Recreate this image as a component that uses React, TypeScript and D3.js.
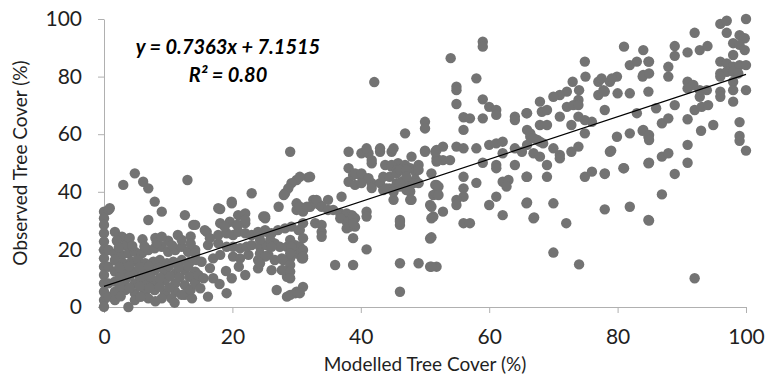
import React, {useEffect, useRef} from 'react';
import * as d3 from 'd3';

type Pt = [number, number];

// modelled (x) vs observed (y) tree cover
const coverLow: Pt[] = [
  [0, 33.1], [0.7, 33.7], [0.9, 34.3], [0, 30.8], [0, 28.5], [1.7, 26.1], [2.8, 24.4], [3.3, 21.5],
  [0, 25.6], [0, 22.7], [0, 19.8], [0, 16.9], [0, 14], [0, 11.1], [0, 8.2], [0, 5.3], [0, 2.4], [0, 0.1],
  [0.7, 19.8], [0.7, 14], [0.7, 8.2], [0.7, 3.6],
  [1.7, 18.6], [2.8, 18.1], [3.8, 18.6], [4.8, 19.2], [5.9, 18.6], [6.9, 19.8], [7.9, 20.4], [9, 20.9],
  [10, 19.2], [11.1, 19.8], [12.1, 20.9], [13.1, 19.2], [14.2, 19.8],
  [1.7, 16.3], [3, 15.2], [4.3, 15.7], [5.3, 16.3], [6.4, 15.2], [7.7, 15.7], [8.7, 16.3], [9.8, 15.2],
  [10.8, 15.7], [12.1, 16.3], [13.4, 15.7], [14.4, 16.3],
  [1.7, 12.3], [3.3, 12.8], [4.8, 12.3], [6.4, 11.7], [7.9, 12.8], [9.5, 12.3], [11.1, 11.7], [12.6, 12.8], [14.2, 12.3],
  [1.7, 8.8], [3.3, 9.4], [4.8, 8.2], [6.4, 8.8], [7.9, 8.2], [9.5, 9.4], [11.1, 8.2], [12.6, 7.6], [14.2, 8.8],
  [1.7, 5.3], [3.3, 5.9], [4.8, 4.8], [6.4, 5.3], [7.9, 5.9], [9.5, 4.8], [11.1, 5.3], [12.6, 4.2],
  [1.7, 2.4], [3.8, 0], [4.8, 2.4], [6.9, 3], [9, 3], [10.5, 3], [12.1, 4.2], [13.7, 3],
  [2, 23], [4, 24], [6, 23.5], [8, 24], [10, 23], [11.5, 25], [13.5, 24.5],
  [2.5, 10.5], [4, 10.8], [5.6, 10.2], [7.2, 10.6], [8.7, 10.1], [10.3, 10.7], [11.8, 10.2], [13.3, 10.5],
  [2.4, 13.9], [3.9, 14.2], [5.5, 13.8], [7, 14.1], [8.5, 13.7], [10.1, 14.2], [11.6, 13.8], [13.1, 14.1],
  [2.3, 20.6], [4.4, 21.2], [6.3, 21], [8.2, 22.3], [10.6, 21.4], [13.5, 22],
  [2.5, 7], [4, 6.7], [5.6, 7.2], [7.1, 6.6], [8.7, 7], [10.2, 6.8], [13.5, 6],
  [2.6, 3.7], [5.7, 3.5], [8, 2], [11, 1.5],
  [7.9, 36.6], [9, 33.1], [6.9, 30.2], [12.6, 31.9], [13.9, 28.5], [4.8, 46.4], [3, 42.4], [6.1, 43.5],
  [6.9, 41.2], [13, 44.1], [9, 24.4], [12.1, 23.3],
];

const coverLowMid: Pt[] = [
  [14.2, 18.6], [15.2, 15.7], [17, 16.9], [18.1, 18.1], [20.1, 17.5], [21.2, 16.9], [22.5, 18.1], [24, 16.3],
  [25.6, 18.1], [26.6, 16.3], [27.7, 16.9], [29, 16.9], [30, 18.6], [31, 16.9],
  [16.2, 21.5], [17.8, 22.1], [19.1, 20.9], [20.1, 20.9], [21.2, 20.4], [22.2, 20.9], [23, 21.5], [24.3, 20.9],
  [25.3, 21.5], [26.6, 22.1], [27.4, 20.9], [28.5, 20.9], [29.8, 21.5], [30.5, 20.9],
  [16, 26.1], [14.2, 28.5], [17.8, 25], [19.1, 25.6], [20.1, 25], [20.9, 26.1], [22, 25.6], [23, 25], [24, 26.1],
  [25.1, 26.7], [26.1, 25.6], [27.1, 26.7], [28.2, 27.3], [29.2, 27.9], [30.3, 26.7],
  [18.1, 29.1], [19.6, 29.6], [20.7, 28.5], [22, 29.1], [24.8, 31.4], [20.9, 31.9], [22, 32.5], [17.8, 34.3],
  [19.9, 36], [23, 39.5], [28.2, 39.5], [19.9, 36.6], [18.1, 34],
  [22, 11.1], [24, 13.4], [26.1, 12.8], [27.7, 12.8], [28.5, 10.5], [17, 10], [19.9, 10], [14.2, 8.2], [15, 6.5],
  [16.2, 3.6], [19.1, 4.8], [26.9, 5.9], [28.5, 3.6], [29.8, 4.8], [14.7, 11.1],
  [16.5, 13.5], [19, 12.5], [21, 14], [15.5, 10], [18, 8],
  [15.7, 26.7], [16.5, 23.9], [18.8, 27.9], [20.9, 28.5], [22, 30.2], [25.1, 30.8],
  [24.3, 25.6], [25.3, 26.1], [24.3, 23.3], [25.9, 23.3], [26.1, 20.9], [24.3, 18.6], [25.1, 17.5], [24.3, 15.2],
  [29, 23.3], [29.2, 20.9], [29, 18.6], [27.9, 16.3], [29, 14.6], [27.9, 12.8], [29, 12.3], [30.8, 19.2],
  [30.8, 16.9], [29, 10], [29, 4.2], [30, 5.3], [31, 7],
  [29, 53.9], [30, 44.1], [31.8, 45], [29.2, 43], [28.7, 41.2], [28, 38.9], [27.2, 34.8], [25.1, 31.4],
  [30, 36], [30, 33.7], [31, 33.1], [32.1, 34.8], [32.6, 37.2], [32.9, 36], [33.6, 35.4], [34.9, 37.2],
];

const coverMid: Pt[] = [
  [30.5, 45.2], [32.1, 45.2], [38.1, 53.9], [40.1, 53.4], [41.2, 53.4], [43, 53.9], [44.8, 53.9], [40.9, 55.1],
  [43, 55.1], [45.1, 55.1],
  [41.7, 49.9], [43.8, 49.3], [44.8, 49.3], [45.8, 49.9], [46.9, 49.3],
  [38.1, 48.2], [38.1, 43.5], [38.8, 45.8], [39.9, 45.8], [40.7, 44.7], [41.7, 43], [41.7, 41.3],
  [43, 43], [43.5, 40.6], [44.5, 41.2], [45.6, 43], [46.4, 43.5], [47.1, 40.6], [47.7, 40.1], [45.1, 37.2],
  [47.7, 37.2], [37, 38.3], [33.1, 37.2],
  [30.5, 34.8], [31.6, 34.8], [33.9, 34.8], [34.9, 33.7], [35.7, 33.7], [36.8, 32.5], [37.8, 32.5], [38.6, 31.9],
  [39.1, 30.8], [40.9, 33.1], [40.9, 31.4],
  [37.8, 29.6], [38.8, 28.5], [37.8, 27.3], [32.9, 29.1], [33.9, 28.5], [33.9, 26.1], [33.9, 24.4], [31, 29.1],
  [30.5, 26.7], [31, 23.9],
  [36.8, 30.8], [38.1, 29.6], [38.3, 27.9], [39.1, 27.9], [38.8, 31.4], [38.8, 29.1],
  [46.1, 30.2], [46.1, 28.5], [38.8, 23.9], [40.9, 20], [31, 19.8], [31, 17.5], [36, 14.6], [38.8, 14.6],
  [30.5, 4.8],
  [41.7, 51], [44.8, 48.8], [45.6, 47.6], [39.1, 46.4], [40.1, 46.4], [41.2, 44.7], [39.1, 42.4], [40.1, 43],
  [43.5, 45.2], [44.5, 45.2], [45.6, 46.4], [46.6, 47.6], [47.7, 48.2], [48.5, 47], [48.5, 44.1], [44, 41.2],
  [45.1, 40], [46.1, 41.8], [47.1, 42.4], [48.2, 43],
  [42.1, 78.1],
];

const coverUpperMid: Pt[] = [
  [50, 64.3], [50, 62], [46.9, 60.3], [50, 54.3], [51.8, 54.5], [52.8, 55.7], [54.9, 55.7], [56, 55.1], [58, 55.1],
  [60, 56.3], [61.1, 56.8], [62.1, 57.4], [64, 55.1],
  [47.9, 52.2], [49, 49.3], [49, 47.6], [51.8, 51.6], [52.8, 51], [53.9, 51], [46.1, 47.6], [47.1, 47.6],
  [47.1, 45.2], [46.1, 43], [49, 43],
  [50, 53.9], [51.6, 53.9], [51, 46.4], [51.6, 42.4], [51.3, 38.9],
  [51.8, 50.5], [59, 50.1], [62.1, 53.4], [65.1, 53.9], [61.1, 49.3], [61.1, 48.2], [64, 49.3], [56, 45.2],
  [58, 43.1], [62.1, 43.5], [63, 44.1], [62.7, 41.8], [65.9, 45.2],
  [51.8, 42.4], [51.8, 39.5], [56, 41.2], [56, 38.3], [54.9, 37.2], [54.9, 35.4], [50.8, 35.4], [51.3, 31.4],
  [52.8, 33.1], [60, 35.4], [61.1, 38.3], [62.1, 31.9], [65.9, 36.3], [67, 31.1],
  [56, 29.1], [57, 29.1], [50.8, 23.8], [50.8, 14], [51.8, 14], [52.1, 41.8], [52.1, 38.9], [47.9, 37.2],
  [51, 34.8], [51, 30.8], [46.1, 29.6], [51, 24.2], [46.1, 15.2], [49, 15.2], [51, 14], [46.1, 5.3],
  [59, 92.1], [59, 90.4], [54, 86.4], [58, 79.4], [54.9, 76.5], [59, 72.1], [54.9, 70.5], [60, 69.5],
  [61.1, 68.4], [61.1, 66.7], [56, 65.9], [57, 65.5], [59, 65.5], [56, 61.5], [64, 66.1], [64, 64.9],
  [65.9, 67.3], [65.9, 61.5], [66.4, 59.1], [67.5, 58], [65.9, 56.3], [54.9, 75.3],
];

const coverHigh: Pt[] = [
  [81, 90.4], [84, 89.2], [74.9, 85.2], [81.9, 84], [83, 85.2], [84.8, 85.2], [84, 80.6], [75, 80], [73, 78.2],
  [77, 78.2], [77.5, 79.4], [78.8, 78.2], [79.9, 80], [74, 75.3], [72.1, 74.8], [71, 73.6], [70, 73],
  [67.9, 71.3], [73.9, 71.9], [77, 73.6], [77.8, 75.3], [80, 74.2], [81.9, 74.2], [84.8, 74.8], [72.1, 69.5],
  [73.1, 70.1], [73.9, 70.1], [65.8, 67.3], [68.2, 67.8], [69, 68.4], [78, 68.4], [83, 67.3], [71, 66.1],
  [73.9, 66.1], [74.9, 64.9], [76, 64.3], [67.9, 63.2], [69, 63.2], [72.8, 63.2], [66.4, 60.3],
  [74.9, 60.3], [79.9, 59.1], [81.9, 60.3], [84, 61.5], [84.8, 59.1], [66.9, 58.6], [67.9, 57.4], [68.4, 56.8],
  [70, 55.1], [71, 52.8], [71, 51.6], [66.9, 53.4], [67.9, 52.2], [69, 49.3], [72.8, 53.9], [73.9, 55.7],
  [78.8, 53.9], [84.8, 49.9], [65.8, 45.2], [69, 45.2], [74.9, 45.2], [76, 47], [78, 46.4], [81, 48.2],
  [65.8, 36], [70, 36], [66.9, 30.8], [72, 29.1], [78, 33.9], [81.9, 34.8], [84.8, 30.2], [70, 18.9], [74, 14.8],
];

const coverTop: Pt[] = [
  [100, 100], [96, 98.3], [97, 99.4], [97, 95.2], [92, 95.2], [99, 94.4], [99.8, 93.3], [98, 91.6], [99, 91],
  [88.9, 90.6], [88.9, 87.2], [90.9, 88.4], [92.8, 89.2], [94, 90.6], [99.8, 89.2], [98, 87.5], [84.9, 85.2],
  [87.9, 83.4], [87.9, 80], [96, 85.2], [97, 84.6], [98, 83.4], [99, 84], [100, 84], [96, 81.1], [97, 81.7],
  [98, 81.7], [98.8, 81.1], [79.1, 79.4], [83.9, 80], [84.9, 81.1], [96, 80], [90.9, 78.2], [91.8, 77.1],
  [98, 78.2], [78, 74.8], [90.9, 75.9], [92.8, 75.3], [93.9, 75.3], [96, 74.8], [96, 73], [98, 75.3],
  [100, 75.3], [92.8, 73], [98, 71.3], [86, 69], [88.9, 70.1], [92, 68.4], [93.1, 69.5], [94.1, 70.1],
  [86.9, 63.8], [87.9, 65.5], [90.9, 65.2], [99, 64.2], [93, 61.2], [94.9, 63.2], [83.9, 61.2], [84.9, 59.7],
  [84.9, 58], [99, 59.4], [99, 57.7], [79, 54.3], [90.9, 56.3], [100, 54.3], [86.9, 52.2], [87.9, 53.4],
  [78, 46.2], [80.9, 48.2], [84.9, 50.1], [88.9, 46.2], [90.9, 50.1], [86.9, 39.1], [84.9, 30], [92, 10],
];

const xTicks = [0, 20, 40, 60, 80, 100];
const yTicks = [0, 20, 40, 60, 80, 100];
const slope = 0.7363;
const intercept = 7.1515;
const rSquared = '0.80';

const font = 'Lato, "Open Sans", sans-serif';

const App = () => {
  const ref = useRef<SVGSVGElement>(null);

  useEffect(() => {
    const svg = d3.select(ref.current);
    svg.selectAll('*').remove();

    const x = d3.scaleLinear().domain([0, 100]).range([104, 746]);
    const y = d3.scaleLinear().domain([0, 100]).range([307, 19]);

    const points = [...coverLow, ...coverLowMid, ...coverMid, ...coverUpperMid, ...coverHigh, ...coverTop];

    // axes
    const yAxis = svg.append('g')
    .attr('transform', `translate(${x(0)},0)`)
    .call(d3.axisLeft(y).tickValues(yTicks).tickSize(6).tickSizeOuter(0).tickPadding(16));
    const xAxis = svg.append('g')
    .attr('transform', `translate(0,${y(0)})`)
    .call(d3.axisBottom(x).tickValues(xTicks).tickSize(6).tickSizeOuter(0).tickPadding(16));

    for (const ax of [xAxis, yAxis]) {
      ax.selectAll('path, line').attr('stroke', '#b0b0b0');
      ax.selectAll('text')
      .style('font-family', font)
      .style('font-size', '21px')
      .attr('fill', '#1f1f1f');
    }

    svg.append('g')
    .selectAll('circle')
    .data(points)
    .join('circle')
    .attr('cx', d => x(d[0]))
    .attr('cy', d => y(d[1]))
    .attr('r', 5.2)
    .attr('fill', '#737373');

    // linear trendline
    svg.append('line')
    .attr('x1', x(0))
    .attr('y1', y(intercept))
    .attr('x2', x(100))
    .attr('y2', y(slope * 100 + intercept))
    .attr('stroke', '#000')
    .attr('stroke-width', 1.2);

    const eq = svg.append('g')
    .style('font-family', font)
    .style('font-size', '20px')
    .style('font-weight', 'bold')
    .style('font-style', 'italic')
    .attr('fill', '#000')
    .attr('text-anchor', 'middle');
    eq.append('text').attr('x', 228).attr('y', 54).text(`y = ${slope}x + ${intercept}`);
    eq.append('text').attr('x', 228).attr('y', 82).text(`R² = ${rSquared}`);

    svg.append('text')
    .attr('x', x(50))
    .attr('y', 371)
    .attr('text-anchor', 'middle')
    .style('font-family', font)
    .style('font-size', '19px')
    .attr('fill', '#1f1f1f')
    .text('Modelled Tree Cover (%)');

    svg.append('text')
    .attr('transform', `translate(27,${y(50)}) rotate(-90)`)
    .attr('text-anchor', 'middle')
    .style('font-family', font)
    .style('font-size', '19px')
    .attr('fill', '#1f1f1f')
    .text('Observed Tree Cover (%)');
  }, []);

  return <>
    <style>{'body{margin:0}'}</style>
    <svg ref={ref} width={775} height={382} style={{display: 'block', background: '#fff'}}/>
  </>;
};

export default App;
